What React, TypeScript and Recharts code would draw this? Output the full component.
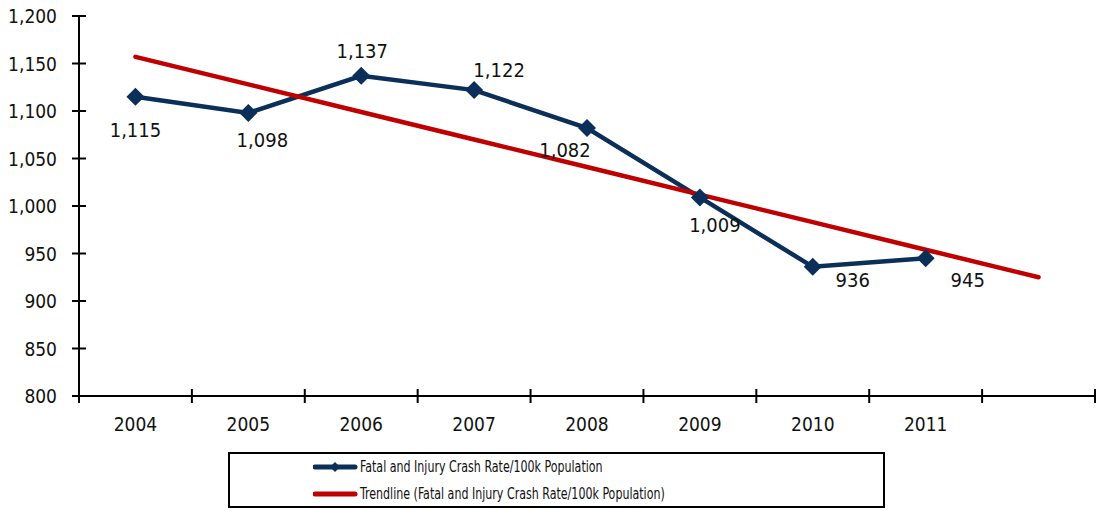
import React from 'react';
import { LineChart, Line, XAxis, YAxis, LabelList } from 'recharts';

const years = ['2004', '2005', '2006', '2007', '2008', '2009', '2010', '2011', ''];
const crashRate = [1115, 1098, 1137, 1122, 1082, 1009, 936, 945, null];
const trendline = [1157, 1128, 1099, 1070, 1041, 1012, 983, 954, 925];
const yTicks = [800, 850, 900, 950, 1000, 1050, 1100, 1150, 1200];

const seriesName = 'Fatal and Injury Crash Rate/100k Population';
const trendName = 'Trendline (Fatal and Injury Crash Rate/100k Population)';

const data = years.map((year, i) => ({ year, rate: crashRate[i], trend: trendline[i] }));

const FONT = "'DejaVu Sans', sans-serif";
const STRETCH = 'condensed';
const NAVY = '#0B2F59';
const RED = '#C00000';

const W = 1096;
const H = 510;
const LEFT = 79;
const RIGHT = 1;
const halfBand = (W - LEFT - RIGHT) / years.length / 2;

const fmt = (v: number) => v.toLocaleString('en-US');

// where each value label sits relative to its point
const labelShift: [number, number][] = [
    [0, 33], [14, 27], [1, -25], [25, -20], [-22, 22], [15, 28], [40, 13], [42, 22],
];

const txt = { fontFamily: FONT, fontStretch: STRETCH, fontSize: 20, fill: '#111' } as const;

const YTick = (props: any) => {
    const { x, y, payload } = props;
    return (
        <g>
            <line x1={x - 7} x2={x + 7} y1={y} y2={y} stroke="#000" strokeWidth={2} />
            <text x={x - 22} y={y} textAnchor="end" dominantBaseline="central"
                  style={{ ...txt, fontSize: 19 }}>{fmt(payload.value)}</text>
        </g>
    );
};

const XTick = (props: any) => {
    const { x, y, payload, index } = props;
    return (
        <g>
            <line x1={x - halfBand} x2={x - halfBand} y1={y - 7} y2={y + 7} stroke="#000" strokeWidth={2} />
            {index === years.length - 1 &&
                <line x1={x + halfBand} x2={x + halfBand} y1={y - 7} y2={y + 7} stroke="#000" strokeWidth={2} />}
            <text x={x} y={y + 28} textAnchor="middle" dominantBaseline="central"
                  style={{ ...txt, fontSize: 19 }}>{payload.value}</text>
        </g>
    );
};

const Diamond = (props: any) => {
    const { cx, cy } = props;
    if (cx == null || cy == null || props.value == null) return null;
    const r = 9;
    return <polygon points={`${cx},${cy - r} ${cx + r},${cy} ${cx},${cy + r} ${cx - r},${cy}`} fill={NAVY} />;
};

const PointLabel = (props: any) => {
    const { x, y, value, index } = props;
    if (value == null) return null;
    const [dx, dy] = labelShift[index] ?? [0, 0];
    return (
        <text x={x + dx} y={y + dy} textAnchor="middle" dominantBaseline="central" style={txt}>{fmt(value)}</text>
    );
};

const legendText = {
    marginLeft: 2, display: 'inline-block', transform: 'scaleX(0.82)', transformOrigin: 'left center',
    whiteSpace: 'nowrap',
} as const;

const LegendBox = () => (
    <div style={{
        position: 'absolute', left: 228, top: 452, width: 657, height: 56, boxSizing: 'border-box',
        border: '2px solid #000', fontFamily: FONT, fontStretch: STRETCH, fontSize: 15, color: '#111', background: '#fff',
    }}>
        <div style={{ position: 'absolute', left: 83, top: 3, display: 'flex', alignItems: 'center', height: 20 }}>
            <svg width={45} height={12}>
                <line x1={2} x2={42} y1={6} y2={6} stroke={NAVY} strokeWidth={5} strokeLinecap="round" />
                <polygon points="22,1 27,6 22,11 17,6" fill={NAVY} />
            </svg>
            <span style={legendText}>{seriesName}</span>
        </div>
        <div style={{ position: 'absolute', left: 83, top: 30, display: 'flex', alignItems: 'center', height: 20 }}>
            <svg width={45} height={12}>
                <line x1={2} x2={42} y1={6} y2={6} stroke={RED} strokeWidth={5} strokeLinecap="round" />
            </svg>
            <span style={legendText}>{trendName}</span>
        </div>
    </div>
);

export default function App() {
    return (
        <div style={{ position: 'absolute', left: 0, top: 0, width: W, height: H, background: '#fff' }}>
            <LineChart width={W} height={H} data={data}
                       margin={{ top: 16, right: RIGHT, left: 0, bottom: 74 }}>
                <XAxis dataKey="year" scale="band" interval={0} height={40} tickSize={0} tickMargin={0}
                       axisLine={{ stroke: '#000', strokeWidth: 2 }} tickLine={false} tick={<XTick />} />
                <YAxis domain={[800, 1200]} ticks={yTicks} width={LEFT} tickSize={0} tickMargin={0}
                       axisLine={{ stroke: '#000', strokeWidth: 2 }} tickLine={false} tick={<YTick />} />
                <Line dataKey="rate" name={seriesName} stroke={NAVY} strokeWidth={4.5}
                      dot={<Diamond />} activeDot={false} isAnimationActive={false} connectNulls={false} />
                <Line dataKey="trend" name={trendName} stroke={RED} strokeWidth={4.5} strokeLinecap="round"
                      dot={false} activeDot={false} isAnimationActive={false} />
                <Line dataKey="rate" stroke="none" dot={false} activeDot={false} legendType="none"
                      isAnimationActive={false}>
                    <LabelList dataKey="rate" content={<PointLabel />} />
                </Line>
            </LineChart>
            <LegendBox />
        </div>
    );
}
